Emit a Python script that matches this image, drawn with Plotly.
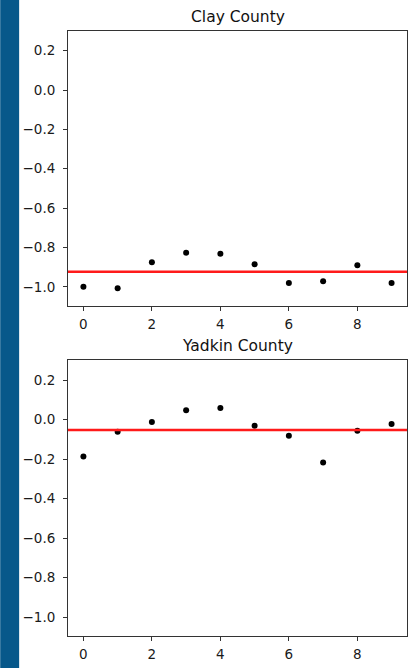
import plotly.graph_objects as go
from plotly.subplots import make_subplots

x_vals = list(range(10))
clay_values = [-1.00, -1.007, -0.875, -0.827, -0.832, -0.885, -0.981, -0.971, -0.890, -0.981]
yadkin_values = [-0.187, -0.062, -0.012, 0.047, 0.058, -0.032, -0.082, -0.217, -0.057, -0.022]
clay_mean = -0.923
yadkin_mean = -0.053
panel_titles = ["Clay County", "Yadkin County"]
y_tickvals = [0.2, 0.0, -0.2, -0.4, -0.6, -0.8, -1.0]
y_ticktext = ["0.2", "0.0", "\u22120.2", "\u22120.4", "\u22120.6", "\u22120.8", "\u22121.0"]
x_tickvals = [0, 2, 4, 6, 8]

W, H = 414, 668
ml, mr, mt, mb = 68, 6, 31, 27
plot_h = H - mt - mb
plot_w = W - ml - mr

def py(p):
    return (H - mb - p) / plot_h

fig = make_subplots(rows=2, cols=1)
font = "DejaVu Sans, Verdana, sans-serif"
axcol = "#333333"

for i, (vals, m) in enumerate([(clay_values, clay_mean), (yadkin_values, yadkin_mean)]):
    r = i + 1
    fig.add_trace(go.Scatter(x=x_vals, y=vals, mode="markers",
                             marker=dict(color="black", size=6),
                             showlegend=False, hoverinfo="skip"), row=r, col=1)
    fig.add_hline(y=m, line=dict(color="#ff1a1a", width=2.5), row=r, col=1)

axis_common = dict(showline=True, linecolor=axcol, linewidth=1, mirror=True,
                   ticks="outside", ticklen=4, tickcolor=axcol, tickwidth=1,
                   showgrid=False, zeroline=False,
                   tickfont=dict(family=font, size=13.5, color="#1a1a1a"))

fig.update_xaxes(range=[-0.45, 9.45], tickvals=x_tickvals, ticklabelstandoff=2, **axis_common)
fig.update_yaxes(range=[-1.096, 0.30], tickvals=y_tickvals, ticktext=y_ticktext,
                 ticklabelstandoff=5, **axis_common)

fig.update_layout(
    yaxis=dict(domain=[py(308), 1.0]),
    yaxis2=dict(domain=[0.0, py(363)]),
)

annots = []
for t, ypx in zip(panel_titles, [17, 349]):
    annots.append(dict(text=t, xref="paper", yref="paper", x=0.5, y=py(ypx),
                       xanchor="center", yanchor="middle", showarrow=False,
                       font=dict(family=font, size=15.5, color="#111111")))
fig.update_layout(annotations=annots)

fig.add_shape(type="rect", xref="paper", yref="paper",
              x0=-ml / plot_w, x1=(19 - ml) / plot_w, y0=-0.2, y1=1.2,
              fillcolor="#07588a", line=dict(width=0), layer="above")

fig.update_layout(width=W, height=H, margin=dict(l=ml, r=mr, t=mt, b=mb),
                  paper_bgcolor="white", plot_bgcolor="white",
                  font=dict(family=font))

fig.write_html("out.html", config={"displayModeBar": False},
               post_script="document.body.style.margin='0';document.body.style.overflow='hidden';")
